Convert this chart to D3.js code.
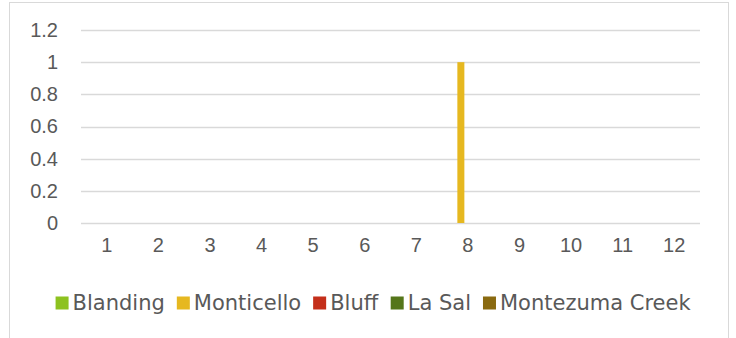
<!DOCTYPE html>
<html><head><meta charset="utf-8">
<script src="https://cdn.jsdelivr.net/npm/d3@7"></script>
<style>
html,body{margin:0;padding:0;background:#fff;}
svg{display:block;font-family:"DejaVu Sans",sans-serif;}
</style></head><body>
<svg id="chart" width="736" height="338"></svg>
<script>
const categories = ["1","2","3","4","5","6","7","8","9","10","11","12"];
const seriesNames = ["Blanding","Monticello","Bluff","La Sal","Montezuma Creek"];
const blanding   = [0,0,0,0,0,0,0,0,0,0,0,0];
const monticello = [0,0,0,0,0,0,0,1,0,0,0,0];
const bluff      = [0,0,0,0,0,0,0,0,0,0,0,0];
const laSal      = [0,0,0,0,0,0,0,0,0,0,0,0];
const montezuma  = [0,0,0,0,0,0,0,0,0,0,0,0];
const yTicks = [0,0.2,0.4,0.6,0.8,1,1.2];
const colors = ["#8DC21F","#E6B820","#C42F1A","#55761A","#8A6A10"];

const allSeries = [blanding, monticello, bluff, laSal, montezuma];
const svg = d3.select("#chart");
const W = 736, H = 338;
const m = {left:81, right:36, top:30, bottom:115};
const FS = 20;

// chart border
svg.append("rect").attr("x",9.5).attr("y",2.5).attr("width",719).attr("height",H+10)
  .attr("fill","#fff").attr("stroke","#d9d9d9").attr("stroke-width",1);

const x0 = d3.scaleBand().domain(categories).range([m.left, W-m.right]).paddingInner(0).paddingOuter(0);
const groupW = x0.bandwidth()*0.68;
const x1 = d3.scaleBand().domain(seriesNames).range([0, groupW]).padding(0);
const y = d3.scaleLinear().domain([0,1.2]).range([H-m.bottom, m.top]);

// gridlines
svg.append("g").selectAll("line").data(yTicks).join("line")
  .attr("x1",m.left).attr("x2",W-m.right)
  .attr("y1",d=>Math.round(y(d))+0.5).attr("y2",d=>Math.round(y(d))+0.5)
  .attr("stroke","#d9d9d9").attr("stroke-width",1.3);

// y axis labels
const yAxis = d3.axisLeft(y).tickValues(yTicks).tickSize(0).tickPadding(0).tickFormat(d3.format("~g"));
const gy = svg.append("g").attr("transform",`translate(58,0)`).call(yAxis);
gy.select(".domain").remove();
gy.selectAll("text").attr("font-size",FS).attr("fill","#595959").attr("font-family","inherit");

// x axis labels
const xAxis = d3.axisBottom(x0).tickSize(0).tickPadding(0);
const gx = svg.append("g").attr("transform",`translate(0,${H-m.bottom+15})`).call(xAxis);
gx.select(".domain").remove();
gx.selectAll("text").attr("font-size",FS).attr("fill","#595959").attr("font-family","inherit");

// bars
const bars = svg.append("g");
categories.forEach((c,i)=>{
  allSeries.forEach((s,j)=>{
    const v = s[i];
    if (v>0) {
      const bx = x0(c) + (x0.bandwidth()-groupW)/2 + x1(seriesNames[j]);
      bars.append("rect").attr("x",bx).attr("width",x1.bandwidth())
        .attr("y",y(v)).attr("height",y(0)-y(v)).attr("fill",colors[j]);
    }
  });
});

// legend
const leg = svg.append("g").attr("transform","translate(0,303)");
const items = seriesNames.map((n,i)=>({n,c:colors[i]}));
const gs = leg.selectAll("g").data(items).join("g");
gs.append("rect").attr("width",13).attr("height",13).attr("y",-6.5).attr("fill",d=>d.c);
gs.append("text").attr("x",17).attr("dy","0.35em").attr("font-size",21).attr("fill","#595959").text(d=>d.n);
const widths = [];
gs.each(function(){ widths.push(this.getBBox().width); });
const gap = 12;
const total = d3.sum(widths) + gap*(widths.length-1);
let lx = 373.5 - total/2;
gs.attr("transform",(d,i)=>{ const t=`translate(${lx},0)`; lx += widths[i]+gap; return t; });
</script>
</body></html>
